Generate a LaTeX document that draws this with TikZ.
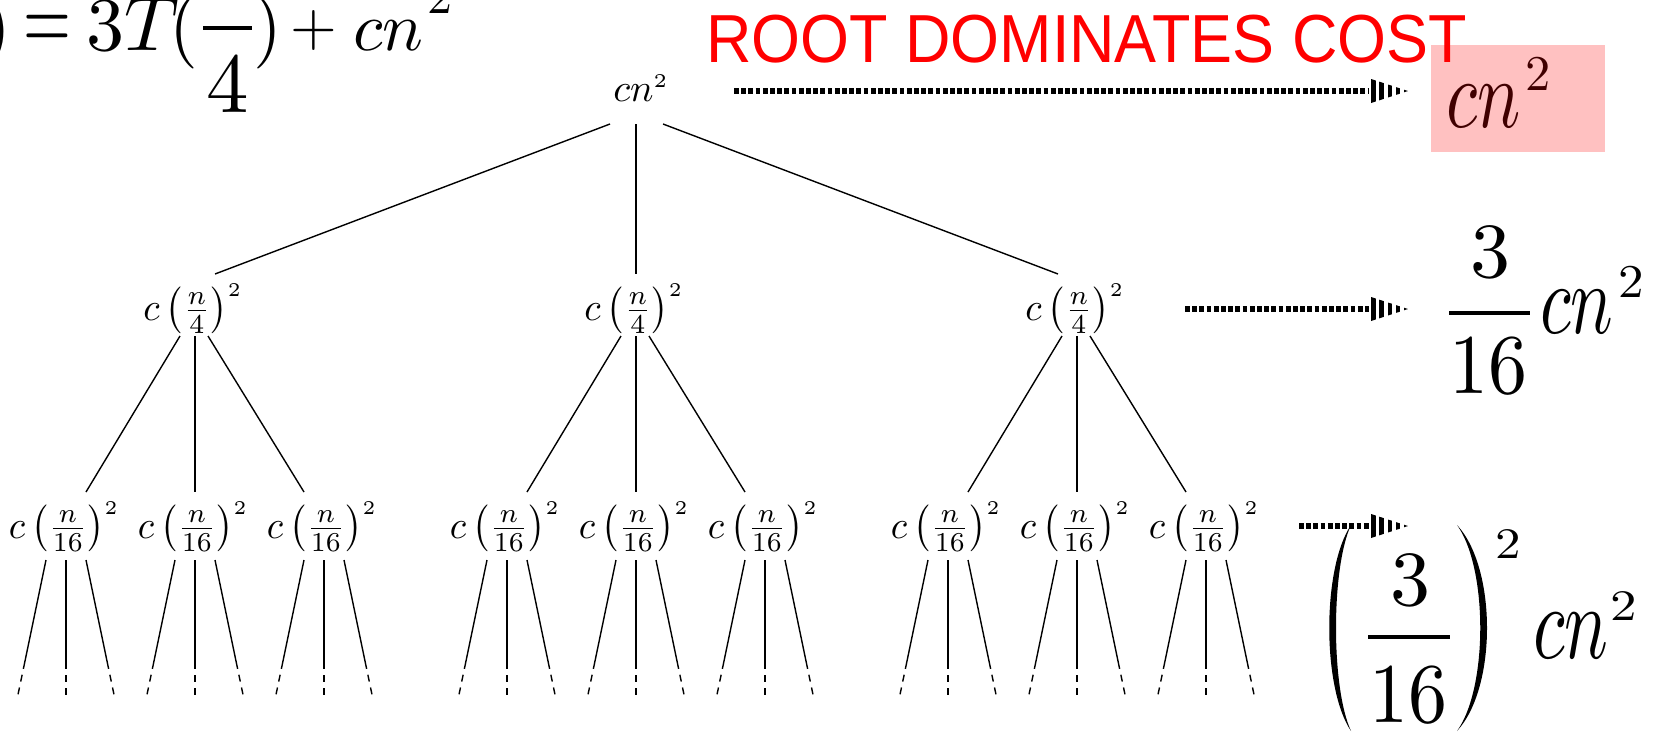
\documentclass[tikz,border=0pt]{standalone}
\usepackage{graphicx}
\usepackage{fontspec}
\setmainfont{Liberation Serif}
\newfontfamily\sansf{Liberation Sans}
\usetikzlibrary{calc}
\definecolor{pinkbg}{RGB}{255,193,193}
\definecolor{darkred}{RGB}{64,0,0}
\newcommand\fs[1]{\fontsize{#1}{#1}\selectfont}
% Type1 serif fonts at 10pt, scaled up
\newcommand\cmr{\fontsize{10}{12}\usefont{OT1}{cmr}{m}{n}}
\newcommand\cmi{\fontsize{10}{12}\usefont{OML}{cmm}{m}{it}}
\newcommand\Sc[3]{\scalebox{#1}[#2]{#3}}
\newcommand\tnl[1]{\scalebox{3.75}[3.9]{#1}}
\newcommand\lvA{\tnl{$c\left(\frac{n}{4}\right)^{\scriptscriptstyle 2}$}}
\newcommand\lvB{\tnl{$c\left(\frac{n}{16}\right)^{\scriptscriptstyle 2}$}}
\begin{document}
\begin{tikzpicture}[x=1pt,y=-1pt,
  tn/.style={inner sep=0pt, font=\fs{10}},
  edge/.style={line width=1.4pt, black},
  leafdash/.style={line width=1.4pt, dash pattern=on 7pt off 6pt},
  txt/.style={inner sep=0pt, text=black},
  dotline/.style={line width=5.5pt, dash pattern=on 4.8pt off 2.4pt},
  headbars/.style={line width=26pt, dash pattern=on 4.5pt off 3.8pt},
  fracbar/.style={line width=4pt},
]
\useasboundingbox (0,0) rectangle (1663,734);
\clip (0,0) rectangle (1663,734);

% ---------- top formula ----------
\node[txt, anchor=base east] (tl) at (11,50) {\Sc{7.4}{7.4}{\cmi T\cmr(\cmi n\cmr)}};
\node[txt, anchor=base west] (eq) at (23.5,50) {\Sc{6.15}{9.6}{\cmr=}};
\node[txt, anchor=base west] (thr) at (86,50) {\Sc{7.6}{7.6}{\cmr 3\cmi T}};
\node[txt, anchor=base west] (lp) at (169,50) {\Sc{7.4}{7.4}{\cmr(}};
\coordinate (fb1) at (203,28);
\coordinate (fb2) at (252,28);
\draw[fracbar] (fb1) -- (fb2);
\node[txt, anchor=base] (four) at (228,112) {\Sc{8.5}{8.5}{\cmr 4}};
\node[txt, anchor=base west] (rp) at (253,50) {\Sc{7.4}{7.4}{\cmr)}};
\node[txt, anchor=base west] (plus) at (290,45) {\Sc{6}{6}{\cmr+}};
\node[txt, anchor=base west] (cn0) at (353,50) {\Sc{6.8}{6.9}{\cmi cn}};
\node[txt, anchor=base west] (sq0) at (427,13) {\Sc{5}{5}{\cmr 2}};

% ---------- pink box + title ----------
\node[fill=pinkbg, inner sep=0pt, minimum width=174pt, minimum height=107pt, anchor=north west] (box) at (1431,45) {};
\node[inner sep=0pt, anchor=base west, text=red, font=\sansf\fs{68}] (title) at (706,62) {\scalebox{0.925}[1]{ROOT DOMINATES COST}};

% ---------- right labels ----------
\node[txt, text=darkred, anchor=base west] (cn1) at (1446,127) {\Sc{7.2}{9.8}{\cmi cn}};
\node[txt, text=darkred, anchor=base west] (sq1) at (1525,90) {\Sc{5.05}{5}{\cmr 2}};

\node[txt, anchor=base] (n2) at (1490,277) {\Sc{8}{7.8}{\cmr 3}};
\coordinate (fc1) at (1449,313);
\coordinate (fc2) at (1530,313);
\draw[fracbar] (fc1) -- (fc2);
\node[txt, anchor=base] (d2) at (1488,393) {\Sc{7.8}{8.5}{\cmr 16}};
\node[txt, anchor=base west] (cn2) at (1540,333) {\Sc{7.1}{10}{\cmi cn}};
\node[txt, anchor=base west] (sq2) at (1618,297) {\Sc{5.1}{4.7}{\cmr 2}};

\fill (1351,525) .. controls (1322,568) and (1322,688) .. (1351,731)
      .. controls (1331,688) and (1331,568) .. (1351,525) -- cycle;
\fill (1457,525) .. controls (1497,568) and (1497,688) .. (1457,731)
      .. controls (1488,688) and (1488,568) .. (1457,525) -- cycle;
\node[txt, anchor=base] (n3) at (1410,605) {\Sc{8}{7.8}{\cmr 3}};
\coordinate (fd1) at (1368,637);
\coordinate (fd2) at (1450,637);
\draw[fracbar] (fd1) -- (fd2);
\node[txt, anchor=base] (d3) at (1408,722) {\Sc{7.8}{8.5}{\cmr 16}};
\node[txt, anchor=base west] (sq3a) at (1495,558) {\Sc{5.1}{4.35}{\cmr 2}};
\node[txt, anchor=base west] (cn3) at (1533,658) {\Sc{7.3}{10.5}{\cmi cn}};
\node[txt, anchor=base west] (sq3b) at (1610,620) {\Sc{5.3}{4.35}{\cmr 2}};

% ---------- dotted arrows ----------
\foreach \k/\sx/\yy in {1/734/91, 2/1185/309, 3/1299/526}{
  \coordinate (s\k) at (\sx,\yy);
  \coordinate (t\k) at (1408,\yy);
  \draw[dotline] (s\k) -- ($(t\k)+(-39,0)$);
  \begin{scope}
    \clip ($(t\k)+(-37,-12)$) -- (t\k) -- ($(t\k)+(-37,12)$) -- cycle;
    \draw[headbars] ($(t\k)+(-37,0)$) -- (t\k);
  \end{scope}
}

% ---------- recursion tree ----------
\node[tn] (r) at (641,88) {\scalebox{3.9}{$cn^{\scriptscriptstyle 2}$}};
\foreach \i/\x in {1/195,2/636,3/1077}{
  \node[tn] (a\i) at ({\x-2},309) {\lvA};
  \foreach \j/\o in {1/-129,2/0,3/129}{
    \node[tn] (b\i\j) at ({\x+\o-2},527) {\lvB};
  }
}
\foreach \i/\s/\d in {1/-31/22, 2/-5/2, 3/22/-17}{
  \draw[edge] ($(r)+(\s,36)$) -- ($(a\i)+(\d,-35)$);
}
\foreach \i in {1,2,3}{
  \foreach \j/\s/\e in {1/-13/22, 2/2/2, 3/15/-18}{
    \draw[edge] ($(a\i)+(\s,27)$) -- ($(b\i\j)+(\e,-35)$);
  }
}
\foreach \i in {1,2,3}{
  \foreach \j in {1,2,3}{
    \foreach \t/\m/\p in {-18/-39.2/-46.5, 2/2/2, 22/43.2/50.5}{
      \draw[edge] ($(b\i\j)+(\t,33)$) -- ($(b\i\j)+(\m,135)$);
      \draw[leafdash] ($(b\i\j)+(\m,135)$) -- ($(b\i\j)+(\p,170)$);
    }
  }
}
\end{tikzpicture}
\end{document}
